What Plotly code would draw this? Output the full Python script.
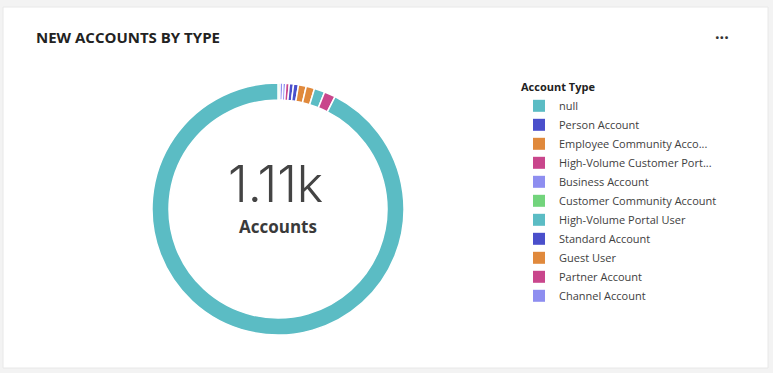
import plotly.graph_objects as go

# ---- data ----
labels = ["null", "Person Account", "Employee Community Acco...", "High-Volume Customer Port...",
          "Business Account", "Customer Community Account", "High-Volume Portal User",
          "Standard Account", "Guest User", "Partner Account", "Channel Account"]
values = [1027, 7, 12, 16, 4, 3, 15, 6, 11, 5, 4]
colors = ["#5bbcc4", "#4a4fcb", "#e0893c", "#c9468c", "#8e8ef0", "#72d47c",
          "#5bbcc4", "#4a4fcb", "#e0893c", "#c9468c", "#8e8ef0"]
# order in which slices appear around the ring (clockwise from 12 o'clock)
draw_order = ["Customer Community Account", "Channel Account", "Business Account",
              "Partner Account", "Standard Account", "Person Account", "Guest User",
              "Employee Community Acco...", "High-Volume Portal User",
              "High-Volume Customer Port...", "null"]

total = sum(values)
center_value = f"{total/1000:.2f}k"
center_label = "Accounts"
title = "NEW ACCOUNTS BY TYPE"
legend_title = "Account Type"

W, H = 773, 373
idx = [labels.index(l) for l in draw_order]

fig = go.Figure()

# legend-only pie (zero size) to keep legend order
fig.add_trace(go.Pie(
    labels=labels, values=values, marker=dict(colors=colors),
    sort=False, textinfo="none", hoverinfo="skip", showlegend=True,
    domain=dict(x=[0.36, 0.36001], y=[0.5, 0.50001]),
))

# visible donut
fig.add_trace(go.Pie(
    labels=[labels[i] for i in idx], values=[values[i] for i in idx],
    marker=dict(colors=[colors[i] for i in idx], line=dict(color="white", width=1.5)),
    sort=False, direction="clockwise", rotation=0, hole=0.865,
    textinfo="none", showlegend=False,
    domain=dict(x=[152 / W, 404 / W], y=[(H - 335) / H, (H - 83) / H]),
))

fig.update_layout(
    width=W, height=H,
    margin=dict(l=0, r=0, t=0, b=0),
    paper_bgcolor="#f3f3f3",
    font=dict(family="Open Sans, sans-serif", color="#3e3e3e"),
    shapes=[dict(type="rect", xref="paper", yref="paper",
                 x0=3 / W, x1=768 / W, y0=(H - 368) / H, y1=(H - 7) / H,
                 fillcolor="white", line=dict(color="#e8e8e8", width=1), layer="below")],
    legend=dict(
        x=519 / W, y=(H - 77) / H, xanchor="left", yanchor="top",
        title=dict(text=f"<b>{legend_title}</b>", font=dict(size=11, color="#222")),
        font=dict(size=11, color="#3e3e3e"),
        bgcolor="rgba(0,0,0,0)", tracegroupgap=0,
    ),
    annotations=[
        dict(text=f"<b>{title}</b>", x=34 / W, y=(H - 37) / H, xref="paper", yref="paper",
             xanchor="left", yanchor="middle", showarrow=False,
             font=dict(size=15, color="#222", family="Open Sans, sans-serif")),
        dict(text="<b>···</b>", x=722 / W, y=(H - 37) / H, xref="paper", yref="paper",
             xanchor="center", yanchor="middle", showarrow=False,
             font=dict(size=16, color="#333")),
        dict(text=center_value, x=275 / W, y=(H - 184) / H, xref="paper", yref="paper",
             xanchor="center", yanchor="middle", showarrow=False,
             font=dict(size=50, color="#444", family="Inter, sans-serif", weight=300)),
        dict(text=f"<b>{center_label}</b>", x=278 / W, y=(H - 227) / H, xref="paper", yref="paper",
             xanchor="center", yanchor="middle", showarrow=False,
             font=dict(size=17, color="#3a3a3a", family="Open Sans, sans-serif")),
    ],
)

fig.write_html("out.html", config={"displayModeBar": False},
               post_script="document.body.style.margin='0';document.body.style.background='#f3f3f3';")
